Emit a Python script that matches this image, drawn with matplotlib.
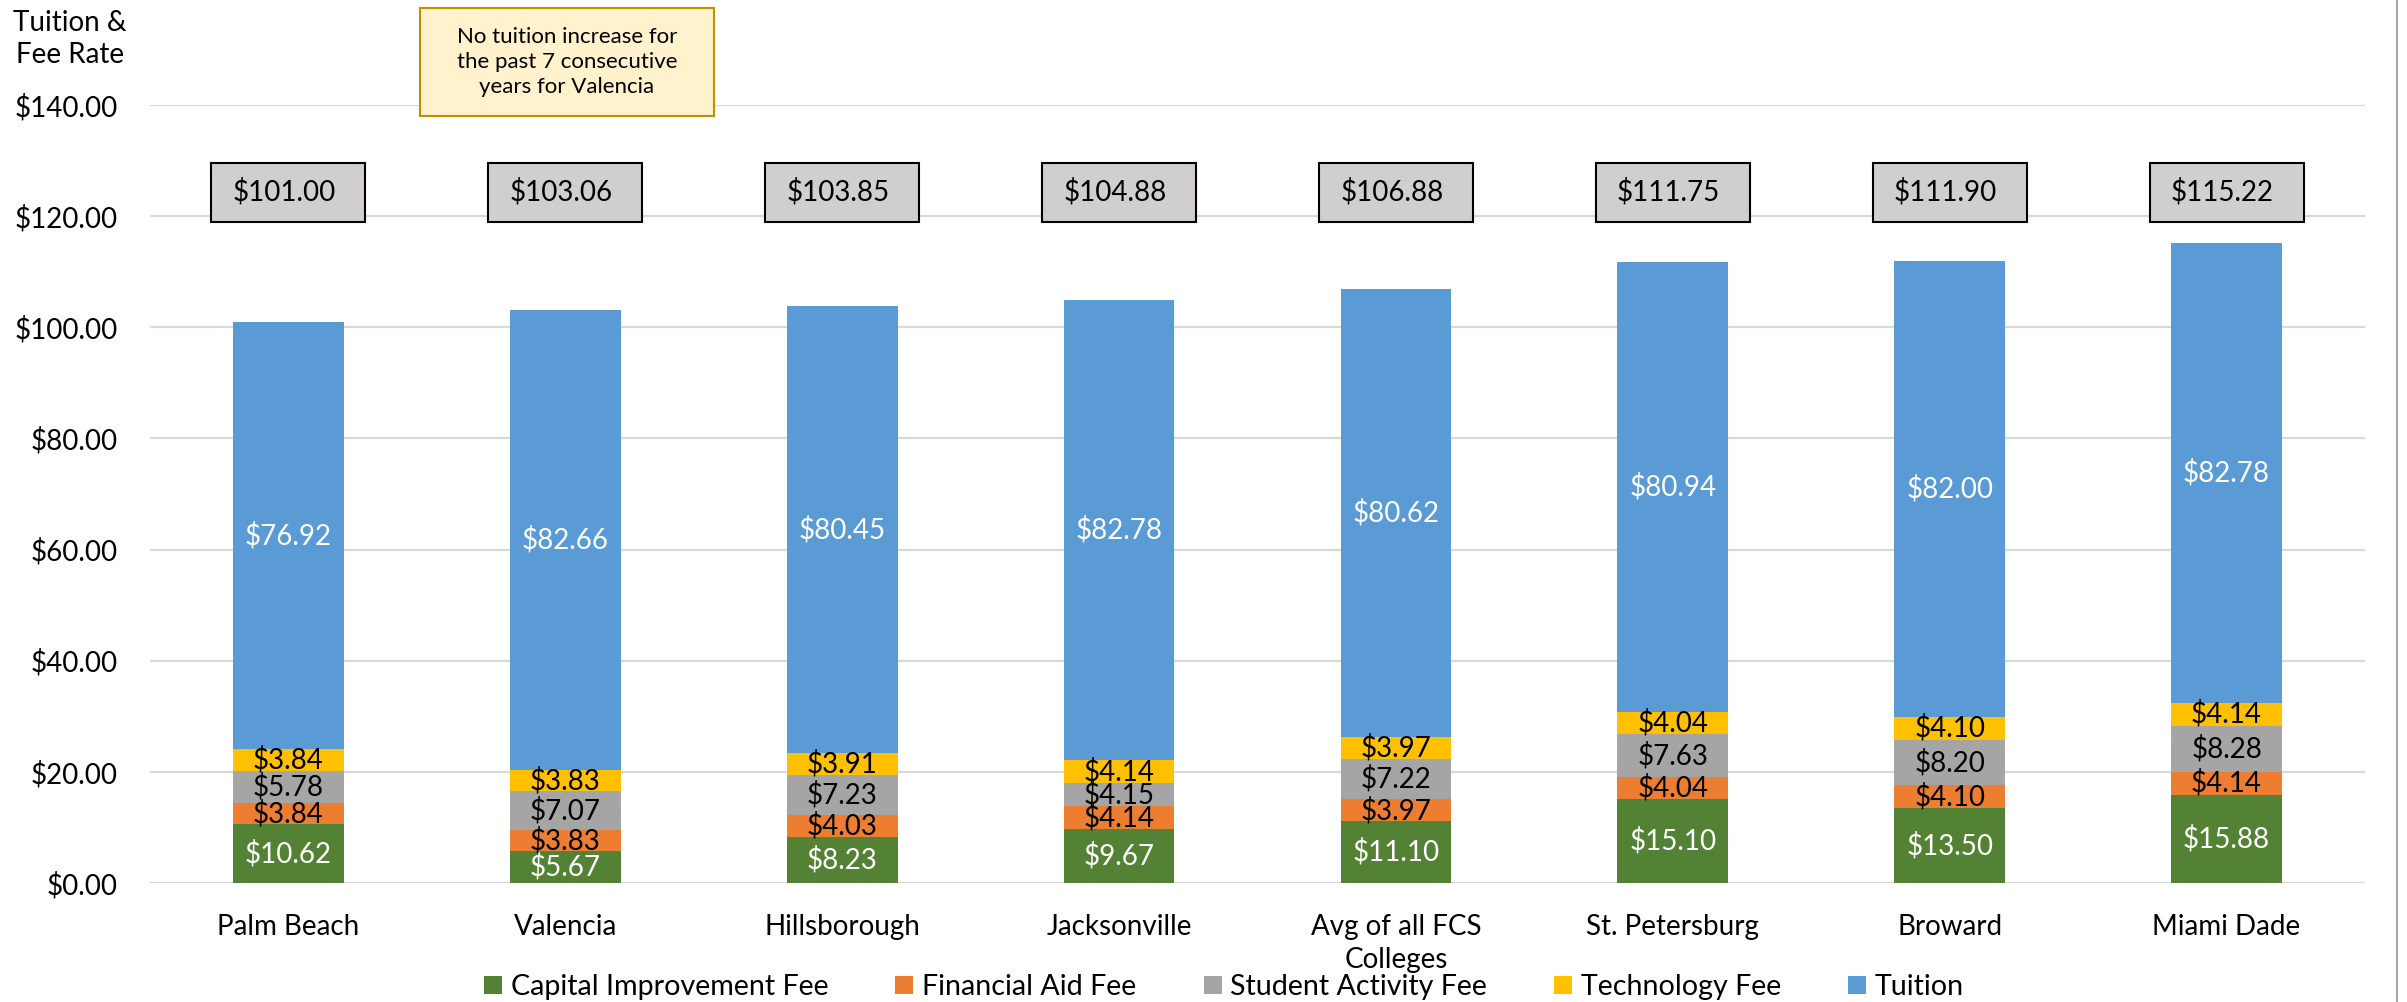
import matplotlib
matplotlib.use("Agg")
import matplotlib.pyplot as plt
from matplotlib.patches import Rectangle, Patch
from matplotlib.lines import Line2D

plt.rcParams['font.family'] = ['Lato', 'DejaVu Sans']

categories = ["Palm Beach", "Valencia", "Hillsborough", "Jacksonville",
              "Avg of all FCS\nColleges", "St. Petersburg", "Broward", "Miami Dade"]
capital = [10.62, 5.67, 8.23, 9.67, 11.10, 15.10, 13.50, 15.88]
fin_aid = [3.84, 3.83, 4.03, 4.14, 3.97, 4.04, 4.10, 4.14]
activity = [5.78, 7.07, 7.23, 4.15, 7.22, 7.63, 8.20, 8.28]
technology = [3.84, 3.83, 3.91, 4.14, 3.97, 4.04, 4.10, 4.14]
tuition = [76.92, 82.66, 80.45, 82.78, 80.62, 80.94, 82.00, 82.78]
totals = [101.00, 103.06, 103.85, 104.88, 106.88, 111.75, 111.90, 115.22]
series_names = ["Capital Improvement Fee", "Financial Aid Fee", "Student Activity Fee",
                "Technology Fee", "Tuition"]
yticks = [0, 20, 40, 60, 80, 100, 120, 140]

series = [capital, fin_aid, activity, technology, tuition]
colors = ["#548235", "#ED7D31", "#A5A5A5", "#FFC000", "#5B9BD5"]
label_colors = ["white", "black", "black", "black", "white"]

W, H = 2407, 1002
fig = plt.figure(figsize=(W / 100, H / 100), dpi=100)
ax = fig.add_axes([150 / W, 1 - 883 / H, (2365 - 150) / W, (883 - 105) / H])

x = list(range(len(categories)))
bottoms = [0.0] * len(categories)
FS = 20
for vals, col, lcol in zip(series, colors, label_colors):
    ax.bar(x, vals, width=0.4, bottom=bottoms, color=col, zorder=3)
    for xi, b, v in zip(x, bottoms, vals):
        ax.text(xi, b + v / 2, f"${v:.2f}", ha="center", va="center",
                color=lcol, fontsize=FS, zorder=4)
    bottoms = [b + v for b, v in zip(bottoms, vals)]

# total boxes
box_y = 124.3
box_w = 0.556
box_h = 10.6
for xi, t in zip(x, totals):
    ax.add_patch(Rectangle((xi - box_w / 2, box_y - box_h / 2), box_w, box_h,
                           facecolor="#D0CECE", edgecolor="black", linewidth=1.5,
                           zorder=5, clip_on=False))
    ax.text(xi - 0.015, box_y, f"${t:.2f}", ha="center", va="center", fontsize=FS,
            color="black", zorder=6)

ax.set_xlim(-0.5, len(categories) - 0.5)
ax.set_ylim(0, 140)
ax.set_yticks(yticks)
ax.set_yticklabels([f"${v:.2f}" for v in yticks])
ax.set_xticks(x)
ax.set_xticklabels(categories, linespacing=1.35)
ax.tick_params(axis="both", length=0, labelsize=FS, colors="black")
ax.tick_params(axis="y", pad=23)
ax.tick_params(axis="x", pad=22)
ax.grid(axis="y", color="#D9D9D9", linewidth=1.6, zorder=0)
for s in ax.spines.values():
    s.set_visible(False)

# annotation box
ann_l, ann_t, ann_r, ann_b = 420, 8, 714, 116
fig.patches.append(Rectangle((ann_l / W, 1 - ann_b / H), (ann_r - ann_l) / W,
                             (ann_b - ann_t) / H, transform=fig.transFigure,
                             facecolor="#FFF2CC", edgecolor="#BF9000", linewidth=1.5))
fig.text((ann_l + ann_r) / 2 / W, 1 - (ann_t + ann_b) / 2 / H,
         "No tuition increase for\nthe past 7 consecutive\nyears for Valencia",
         ha="center", va="center", fontsize=16, linespacing=1.3, color="black")

# y-axis title
fig.text(70 / W, 1 - 39 / H, "Tuition &\nFee Rate", ha="center", va="center",
         fontsize=FS, linespacing=1.25, multialignment="center")

# legend
handles = [Patch(facecolor=c, edgecolor="none") for c in colors]
fig.legend(handles, series_names, loc="center", bbox_to_anchor=(1224 / W, 1 - 987 / H),
           ncol=5, frameon=False, fontsize=20.6, handlelength=0.63, handleheight=0.63,
           handletextpad=0.3, columnspacing=2.35, borderpad=0, borderaxespad=0)

# right border line
fig.add_artist(Line2D([2397 / W, 2397 / W], [0, 1], transform=fig.transFigure,
                      color="#A6A6A6", linewidth=1.5))

fig.savefig("out.png", dpi=100)
